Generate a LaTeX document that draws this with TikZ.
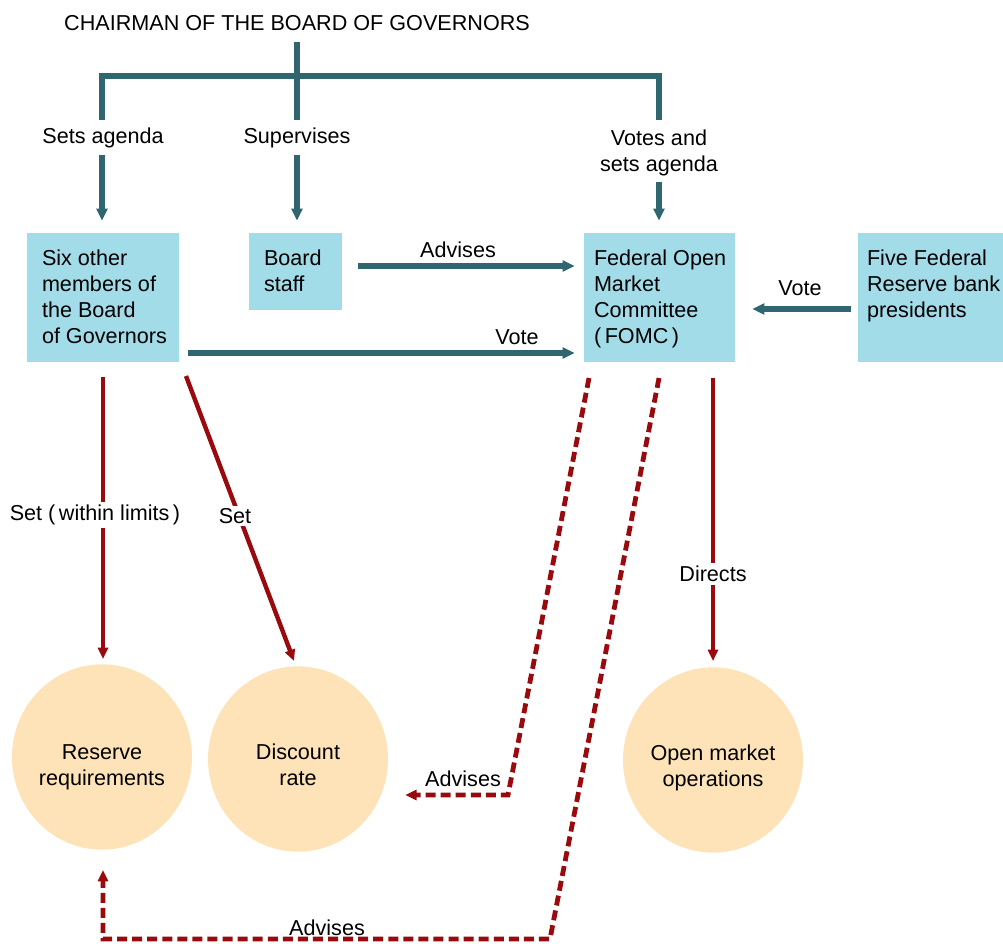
\documentclass[tikz,border=0pt]{standalone}
\usepackage{fontspec}
\setmainfont{Liberation Sans}
\usetikzlibrary{arrows.meta,shapes.geometric}
\definecolor{fedteal}{HTML}{2F6670}
\definecolor{fedblue}{HTML}{A2DCE8}
\definecolor{fedpeach}{HTML}{FDE3B7}
\definecolor{fedred}{HTML}{990A0F}
\begin{document}
\begin{tikzpicture}[x=0.75pt,y=-0.75pt,
  font=\fontsize{16.2pt}{19.5pt}\selectfont,
  lbl/.style={inner sep=0pt, align=center},
  wlbl/.style={fill=white, inner sep=2pt, align=center},
  fbox/.style={fill=fedblue, draw=none, inner sep=0pt},
  btext/.style={inner sep=0pt, align=left, anchor=north west},
  oval/.style={ellipse, fill=fedpeach, draw=none, inner sep=0pt, minimum width=135pt, minimum height=139pt},
  tline/.style={draw=fedteal, line width=3.8pt},
  tarrow/.style={tline, -{Triangle[length=9pt,width=8pt]}},
  rline/.style={draw=fedred, line width=3.3pt},
  rarrow/.style={rline, -{Triangle[length=8.5pt,width=7.5pt]}},
  rdash/.style={rarrow, line width=3.6pt, dash pattern=on 7.5pt off 3.8pt}]
\useasboundingbox (0,0) rectangle (1003,943);

% title and top labels
\node[lbl] (chair) at (297,23) {CHAIRMAN OF THE BOARD OF GOVERNORS};
\node[lbl] (lsets) at (103,138) {Sets agenda};
\node[lbl] (lsup) at (297,138) {Supervises};
\node[lbl] (lvotes) at (659,153) {Votes and\\sets agenda};

% boxes
\node[fbox, minimum width=114pt, minimum height=96.75pt] (six) at (103,297.5) {};
\node[fbox, minimum width=69.75pt, minimum height=57.75pt] (staff) at (295.5,271.5) {};
\node[fbox, minimum width=113.25pt, minimum height=96.75pt] (fomc) at (659.5,297.5) {};
\node[fbox, minimum width=108.75pt, minimum height=96.75pt] (five) at (930.5,297.5) {};
\node[btext] (sixT) at ([shift={(15,17)}]six.north west) {Six other\\members of\\the Board\\of Governors};
\node[btext] (staffT) at ([shift={(15,17)}]staff.north west) {Board\\staff};
\node[btext] (fomcT) at ([shift={(10,17)}]fomc.north west) {Federal Open\\Market\\Committee\\(\,FOMC\,)};
\node[btext] (fiveT) at ([shift={(9,17)}]five.north west) {Five Federal\\Reserve bank\\presidents};

% ovals
\node[oval] (reserve) at (102,757) {};
\node[oval] (discount) at (298,759) {};
\node[oval] (omo) at (713,760) {};
\node[lbl] (reserveT) at (102,767) {Reserve\\requirements};
\node[lbl] (discountT) at (298,765) {Discount\\rate};
\node[lbl] (omoT) at (713,768) {Open market\\operations};

% teal tree
\coordinate (t1) at (297,42);
\coordinate (t2) at (297,120);
\coordinate (b1) at (102,120);
\coordinate (b2) at (102,76);
\coordinate (b3) at (659,76);
\coordinate (b4) at (659,120);
\draw[tline] (t1) -- (t2);
\draw[tline, line join=miter] (b1) -- (b2) -- (b3) -- (b4);

\coordinate (a1) at (102,155);
\coordinate (a2) at (297,155);
\coordinate (a3) at (659,182);
\draw[tarrow, shorten >=9pt] (a1) -- (a1 |- six.north);
\draw[tarrow, shorten >=9pt] (a2) -- (a2 |- staff.north);
\draw[tarrow, shorten >=9pt] (a3) -- (a3 |- fomc.north);

% horizontal teal arrows
\coordinate (adv1) at (358,266);
\draw[tarrow, shorten >=6.75pt] (adv1) -- (adv1 -| fomc.west);
\node[lbl] (ladv) at (458,250) {Advises};
\coordinate (v1) at (188,353);
\draw[tarrow, shorten >=6.75pt] (v1) -- (v1 -| fomc.west);
\node[lbl] (lvote1) at (517,337) {Vote};
\coordinate (v2) at (851,309);
\draw[tarrow, shorten >=12.75pt] (v2) -- (v2 -| fomc.east);
\node[lbl] (lvote2) at (800,288) {Vote};

% red solid arrows
\coordinate (r1) at (103,377);
\draw[rarrow, shorten >=3.75pt] (r1) -- (r1 |- reserve.north);
\node[wlbl] (lset1) at (95,515) {Set (\,within limits\,)};
\coordinate (r2) at (186,376);
\coordinate (r2e) at (294,661);
\draw[rarrow] (r2) -- (r2e);
\node[wlbl] (lset2) at (235,516) {Set};
\coordinate (r3) at (713,378);
\draw[rarrow, shorten >=4.5pt] (r3) -- (r3 |- omo.north);
\node[wlbl] (ldir) at (713,574) {Directs};

% red dashed arrows
\coordinate (d1) at (589,378);
\coordinate (d2) at (508,795);
\draw[rdash, line join=miter, shorten >=12.75pt] (d1) -- (d2) -- (d2 -| discount.east);
\node[lbl] (ladv2) at (463,779) {Advises};
\coordinate (e1) at (659,378);
\coordinate (e2) at (550,939);
\coordinate (e3) at (103,939);
\draw[rdash, line join=miter, shorten >=15pt] (e1) -- (e2) -- (e3) -- (e3 |- reserve.south);
\node[lbl] (ladv3) at (327,928) {Advises};
\end{tikzpicture}
\end{document}
